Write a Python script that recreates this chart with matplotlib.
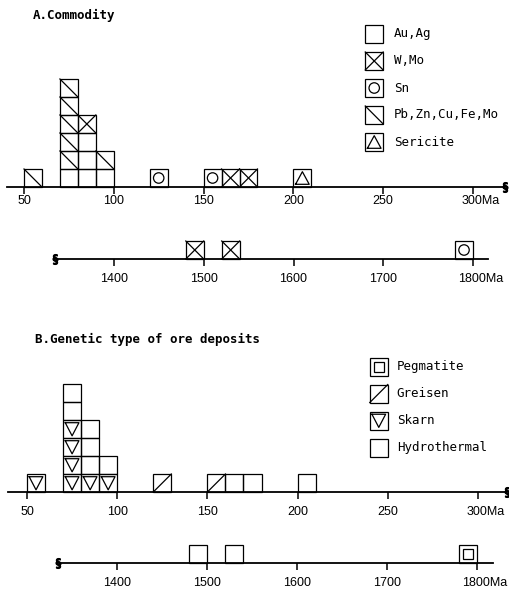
import numpy as np
import matplotlib
matplotlib.use("Agg")
import matplotlib.pyplot as plt
from matplotlib.patches import Rectangle, Ellipse
from matplotlib.transforms import ScaledTranslation

# ---- data: age bins (Ma) and stacked deposit types, bottom to top ----
a_young_bins = [50, 70, 80, 90, 120, 150, 160, 170, 200]
a_young_stacks = [
    ["pb"],
    ["au", "pb", "pb", "pb", "pb", "pb"],
    ["au", "au", "au", "w"],
    ["au", "pb"],
    ["sn"],
    ["sn"],
    ["w"],
    ["w"],
    ["ser"],
]
a_old_bins = [1480, 1520, 1780]
a_old_types = ["w", "w", "sn"]

b_young_bins = [50, 70, 80, 90, 120, 150, 160, 170, 200]
b_young_stacks = [
    ["sk"],
    ["sk", "sk", "sk", "sk", "hy", "hy"],
    ["sk", "hy", "hy", "hy"],
    ["sk", "hy"],
    ["gr"],
    ["gr"],
    ["hy"],
    ["hy"],
    ["hy"],
]
b_old_bins = [1480, 1520, 1780]
b_old_types = ["hy", "hy", "peg"]

a_legend_types = ["au", "w", "sn", "pb", "ser"]
a_legend_labels = ["Au,Ag", "W,Mo", "Sn", "Pb,Zn,Cu,Fe,Mo", "Sericite"]
b_legend_types = ["peg", "gr", "sk", "hy"]
b_legend_labels = ["Pegmatite", "Greisen", "Skarn", "Hydrothermal"]

young_ticks = [50, 100, 150, 200, 250, 300]
old_ticks = [1400, 1500, 1600, 1700, 1800]

W, H = 510, 590
BOX = 18  # pixel size of one box
LW = 0.9

fig = plt.figure(figsize=(W / 100, H / 100), dpi=100)


def make_axis(px_left, px_right, baseline, top, t0, p0, t1, p1, ticks, breakside, labelpad):
    scale = (p1 - p0) / (t1 - t0)
    ax = fig.add_axes([px_left / W, (H - baseline) / H,
                       (px_right - px_left) / W, (baseline - top) / H])
    ax.set_xlim(t0 - (p0 - px_left) / scale, t1 + (px_right - p1) / scale)
    ax.set_ylim(0, (baseline - top) / BOX)
    ax.patch.set_visible(False)
    for s in ["top", "left", "right"]:
        ax.spines[s].set_visible(False)
    ax.spines["bottom"].set_linewidth(1.3)
    ax.set_yticks([])
    ax.set_xticks(ticks)
    labels = [str(t) for t in ticks]
    labels[-1] = labels[-1] + "Ma"
    ax.set_xticklabels(labels, fontsize=9, family="Liberation Sans")
    ax.tick_params(axis="x", direction="out", length=5, width=1.1, pad=labelpad)
    last = ax.get_xticklabels()[-1]
    last.set_transform(last.get_transform() + ScaledTranslation(8 / 100, 0, fig.dpi_scale_trans))
    xb = ax.get_xlim()[1] if breakside == "right" else ax.get_xlim()[0]
    ax.plot([xb], [0], marker=r"$\S$", ms=7, color="black", clip_on=False)
    return ax


def draw_box(ax, x, y, w, kind):
    ax.add_patch(Rectangle((x, y), w, 1, fill=False, ec="black", lw=LW, clip_on=False))
    kw = dict(color="black", lw=LW, clip_on=False)
    if kind == "pb":
        ax.plot([x, x + w], [y + 1, y], **kw)
    elif kind == "w":
        ax.plot([x, x + w], [y + 1, y], **kw)
        ax.plot([x, x + w], [y, y + 1], **kw)
    elif kind == "gr":
        ax.plot([x, x + w], [y, y + 1], **kw)
    elif kind == "sn":
        ax.add_patch(Ellipse((x + w / 2, y + 0.5), 0.58 * w, 0.58, fill=False,
                             ec="black", lw=LW, clip_on=False))
    elif kind == "ser":
        ax.plot([x + 0.12 * w, x + 0.5 * w, x + 0.88 * w, x + 0.12 * w],
                [y + 0.15, y + 0.85, y + 0.15, y + 0.15], **kw)
    elif kind == "sk":
        ax.plot([x + 0.12 * w, x + 0.5 * w, x + 0.88 * w, x + 0.12 * w],
                [y + 0.85, y + 0.12, y + 0.85, y + 0.85], **kw)
    elif kind == "peg":
        ax.add_patch(Rectangle((x + 0.22 * w, y + 0.22), 0.56 * w, 0.56, fill=False,
                               ec="black", lw=LW, clip_on=False))


def draw_stacks(ax, bins, stacks, width):
    for x, stack in zip(bins, stacks):
        for level, kind in enumerate(stack):
            draw_box(ax, x, level, width, kind)


def draw_legend(ax, types, labels, x, y_top, step, text_x):
    for i, (kind, lab) in enumerate(zip(types, labels)):
        y = y_top - i * step
        draw_box(ax, x, y, 10, kind)
        ax.text(text_x, y + 0.5, lab, va="center", ha="left", fontsize=9,
                family="DejaVu Sans Mono")


# ---- panel A ----
ax_a1 = make_axis(7, 505, 187, 21, 50, 24, 300, 473, young_ticks, "right", 1)
draw_stacks(ax_a1, a_young_bins, a_young_stacks, 10)
draw_legend(ax_a1, a_legend_types, a_legend_labels, 240, 8, 1.5, 256)

ax_a2 = make_axis(55, 488, 259, 230, 1400, 114, 1800, 473, old_ticks, "left", 5)
draw_stacks(ax_a2, a_old_bins, [[t] for t in a_old_types], 20)

# ---- panel B ----
ax_b1 = make_axis(8, 507, 492, 340, 50, 27, 300, 478, young_ticks, "right", 5)
draw_stacks(ax_b1, b_young_bins, b_young_stacks, 10)
draw_legend(ax_b1, b_legend_types, b_legend_labels, 240, 6.47, 1.5, 255)

ax_b2 = make_axis(58, 493, 563, 535, 1400, 117, 1800, 477, old_ticks, "left", 5)
draw_stacks(ax_b2, b_old_bins, [[t] for t in b_old_types], 20)

fig.text(33 / W, 1 - 15 / H, "A.Commodity", va="center", ha="left", fontsize=9,
         family="DejaVu Sans Mono", fontweight="bold")
fig.text(35 / W, 1 - 339 / H, "B.Genetic type of ore deposits", va="center", ha="left",
         fontsize=9, family="DejaVu Sans Mono", fontweight="bold")

fig.savefig("out.png", dpi=100)
